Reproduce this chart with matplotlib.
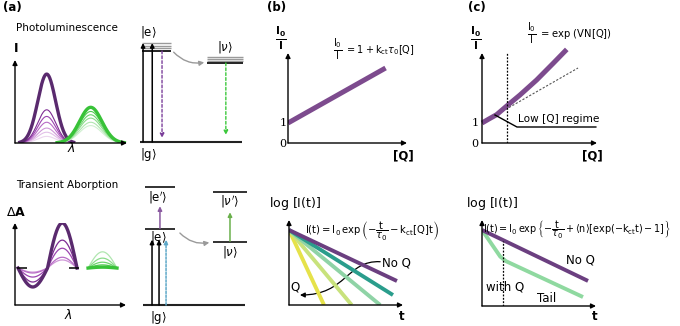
import numpy as np
import matplotlib
matplotlib.use('Agg')
import matplotlib.pyplot as plt
from matplotlib.patches import FancyArrowPatch
from matplotlib.path import Path

W, H = 680, 326
plt.rcParams['font.family'] = 'DejaVu Sans'
plt.rcParams['mathtext.fontset'] = 'dejavusans'

# ── data ────────────────────────────────────────────────────────────────────
# (a) photoluminescence bands (lambda in 0..1, intensity in 0..1)
pl_purple_centre, pl_purple_width = 0.283, 0.08
pl_green_centre, pl_green_width = 0.676, 0.10
pl_purple_heights = [0.08, 0.13, 0.18, 0.25, 0.32, 0.40, 0.83]
pl_green_heights = [0.21, 0.25, 0.30, 0.34, 0.38, 0.43]

# (a) transient absorption (bleach / induced absorption amplitudes)
ta_purple_range = (0.027, 0.559)
ta_purple_pos = [0.18, 0.24, 0.44, 0.62, 1.0]
ta_purple_neg = [0.09, 0.11, 0.20, 0.31, 0.42]
ta_green_range = (0.658, 0.919)
ta_green_heights = [0.36, 0.22, 0.13, 0.07, 0.02]

# (a) energy levels
E_ground = 0.0
E_e_pl = [1.0, 1.03, 1.06, 1.088]
E_nu_pl = [0.868, 0.89, 0.912, 0.934]
E_e_ta, E_e2_ta = 1.0, 1.553
E_nu_ta, E_nu2_ta = 0.829, 1.487

# (b) Stern-Volmer
q_b = [0.0, 0.82]
ratio_b = [1.0, 3.75]

# (c) exponential quenching
q_c = [0.0, 0.06, 0.128, 0.215, 0.33, 0.475, 0.62, 0.737]
ratio_c = [1.0, 1.2, 1.42, 1.85, 2.4, 3.15, 3.99, 4.68]
q_tangent = [0.0, 0.835]
ratio_tangent = [1.0, 3.75]
q_low = 0.215

# (b) decays, log I normalised to 1 at t = 0
decay_t_end = [0.947, 0.912, 0.80, 0.55, 0.307]
decay_y_end = [0.32, 0.133, 0.0, 0.0, 0.0]

# (c) decays
noq_t = [0.0, 0.93]
noq_y = [1.0, 0.33]
withq_t = [0.0, 0.16, 0.21, 0.886]
withq_y = [1.0, 0.65, 0.59, 0.118]
t_kink = 0.184

purple_shades = ['#ecd6ef', '#e2c0e8', '#cf98d8', '#b86cc6', '#9c45b0', '#7e2c93', '#5a2a6e']
green_shades = ['#d2f0d2', '#b0e6b0', '#8cdc8c', '#6dd36d', '#52cb52', '#38c238']
decay_colors = ['#6b3f80', '#2a9d8c', '#8fd3a6', '#c8e27c', '#e6e24a']

fig = plt.figure(figsize=(W / 100, H / 100), dpi=100)


def add_ax(x0, y0, x1, y1, xlim, ylim):
    ax = fig.add_axes([x0 / W, 1 - y1 / H, (x1 - x0) / W, (y1 - y0) / H])
    ax.set_xlim(*xlim)
    ax.set_ylim(*ylim)
    ax.axis('off')
    return ax


def axis_arrows(ax):
    (x0, x1), (y0, y1) = ax.get_xlim(), ax.get_ylim()
    kw = dict(arrowstyle='-|>', color='k', lw=1.0, mutation_scale=7,
              shrinkA=0, shrinkB=0)
    ax.annotate('', xy=(x1, y0), xytext=(x0, y0), arrowprops=kw,
                annotation_clip=False)
    ax.annotate('', xy=(x0, y1), xytext=(x0, y0), arrowprops=kw,
                annotation_clip=False)


def arrow(ax, x, y_from, y_to, color='k', ls='-', lw=1.1):
    ax.annotate('', xy=(x, y_to), xytext=(x, y_from), annotation_clip=False,
                arrowprops=dict(arrowstyle='-|>', color=color, lw=lw, ls=ls,
                                mutation_scale=6, shrinkA=0, shrinkB=0))


def label(x, y, s, ha='center', va='center', **kw):
    fig.text(x / W, 1 - y / H, s, ha=ha, va=va, **kw)


# ── (a) photoluminescence spectrum ─────────────────────────────────────────
ax = add_ax(15, 60, 127, 143, (0, 1), (0, 1))
axis_arrows(ax)
n = len(pl_purple_heights)
lam = np.linspace(pl_purple_centre - 3 * pl_purple_width,
                  pl_purple_centre + 3 * pl_purple_width, 200)
for i, h in enumerate(pl_purple_heights):
    ax.plot(lam, h * np.exp(-(lam - pl_purple_centre) ** 2 / (2 * pl_purple_width ** 2)),
            color=purple_shades[i], lw=2.4 if i == n - 1 else 0.8)
lam = np.linspace(pl_green_centre - 3 * pl_green_width,
                  pl_green_centre + 3 * pl_green_width, 200)
for i, h in enumerate(pl_green_heights):
    ax.plot(lam, h * np.exp(-(lam - pl_green_centre) ** 2 / (2 * pl_green_width ** 2)),
            color=green_shades[i], lw=2.4 if i == len(pl_green_heights) - 1 else 0.8)

label(3, 8, '(a)', ha='left', fontsize=8.5, fontweight='bold')
label(67, 28, 'Photoluminescence', fontsize=7.5)
label(16, 49, 'I', fontsize=9, fontweight='bold')
label(71, 148, r'$\lambda$', fontsize=9)

# ── (a) transient absorption spectrum ──────────────────────────────────────
ax = add_ax(15, 223, 126, 305, (0, 1), (-0.82, 1.0))
axis_arrows(ax)
x = np.linspace(*ta_purple_range, 200)
ph = (x - ta_purple_range[0]) / (ta_purple_range[1] - ta_purple_range[0])
s = np.sin(2 * np.pi * ph)
m = len(ta_purple_pos)
for i, (p, q) in enumerate(zip(ta_purple_pos, ta_purple_neg)):
    y = np.where(ph < 0.5, -q * s, -p * s)
    ax.plot(x, y, color=purple_shades[i + 2], lw=2.4 if i == m - 1 else 0.9)
ax.hlines(0, 0.018, 0.108, color='k', lw=1.1)
ax.hlines(0, 0.49, 0.58, color='k', lw=1.1)
x = np.linspace(*ta_green_range, 100)
ph = (x - ta_green_range[0]) / (ta_green_range[1] - ta_green_range[0])
for i, h in enumerate(ta_green_heights):
    ax.plot(x, h * np.sin(np.pi * ph), color=green_shades[i + 1],
            lw=2.4 if i == len(ta_green_heights) - 1 else 0.9)

label(67, 185, 'Transient Aborption', fontsize=7.5)
label(16, 213, r'$\Delta$A', fontsize=9, fontweight='bold')
label(68, 315, r'$\lambda$', fontsize=9)

# ── (a) level diagram, photoluminescence ───────────────────────────────────
ax = add_ax(135, 20, 250, 160, (0, 1), (-0.198, 1.341))
ax.hlines(E_ground, 0.04, 0.93, color='#222222', lw=1.5)
ax.hlines(E_e_pl[1:], 0.06, 0.31, color='#9a9a9a', lw=1.0)
ax.hlines(E_e_pl[0], 0.06, 0.31, color='#222222', lw=1.4)
ax.hlines(E_nu_pl[1:], 0.63, 0.94, color='#9a9a9a', lw=1.0)
ax.hlines(E_nu_pl[0], 0.63, 0.94, color='#222222', lw=1.4)
arrow(ax, 0.07, E_ground, E_e_pl[-1])
arrow(ax, 0.15, E_ground, E_e_pl[-1])
arrow(ax, 0.235, E_e_pl[0], 0.045, color='#7b3f9a', ls=(0, (2, 1.5)), lw=1.0)
arrow(ax, 0.79, E_nu_pl[0], 0.077, color='#3cc83c', ls=(0, (2, 1.5)), lw=1.0)
ax.annotate('', xy=(0.626, 0.88), xytext=(0.32, 1.01), annotation_clip=False,
            arrowprops=dict(arrowstyle='-|>', color='#9a9a9a', lw=1.0,
                            mutation_scale=7, connectionstyle='arc3,rad=0.3'))
label(148, 32, r'$|\mathrm{e}\rangle$', fontsize=8.5)
label(148, 155, r'$|\mathrm{g}\rangle$', fontsize=8.5)
label(225, 47, r'$|\nu\rangle$', fontsize=8.5)

# ── (a) level diagram, transient absorption ────────────────────────────────
ax = add_ax(135, 180, 250, 325, (0, 1), (-0.263, 1.645))
ax.hlines(E_ground, 0.07, 0.957, color='#222222', lw=1.5)
ax.hlines([E_e_ta, E_e2_ta], 0.087, 0.348, color='#222222', lw=1.3)
ax.hlines([E_nu_ta, E_nu2_ta], 0.678, 0.974, color='#222222', lw=1.3)
arrow(ax, 0.148, E_ground, 0.86)
arrow(ax, 0.209, E_ground, 0.86)
arrow(ax, 0.27, E_ground, 0.86, color='#5ea8c8', ls=(0, (1.5, 1)))
arrow(ax, 0.217, 1.01, 1.30, color='#8a5aa0')
arrow(ax, 0.826, 0.84, 1.22, color='#6ab04c')
ax.annotate('', xy=(0.67, E_nu_ta), xytext=(0.374, 0.974), annotation_clip=False,
            arrowprops=dict(arrowstyle='-|>', color='#9a9a9a', lw=1.0,
                            mutation_scale=7, connectionstyle='arc3,rad=0.3'))
label(158, 198, r"$|\mathrm{e}'\rangle$", fontsize=8.5)
label(158, 237, r'$|\mathrm{e}\rangle$', fontsize=8.5)
label(158, 318, r'$|\mathrm{g}\rangle$', fontsize=8.5)
label(230, 202, r"$|\nu'\rangle$", fontsize=8.5)
label(230, 252, r'$|\nu\rangle$', fontsize=8.5)

# ── (b) Stern-Volmer ───────────────────────────────────────────────────────
ax = add_ax(288, 53, 407, 143, (0, 1), (0, 4.5))
axis_arrows(ax)
ax.plot(q_b, ratio_b, color='#7d4b8e', lw=3.6, solid_capstyle='butt')
label(277, 8, '(b)', fontsize=8.5, fontweight='bold')
label(281, 38, r'$\frac{\mathbf{I_0}}{\mathbf{I}}$', fontsize=11)
label(283, 123, '1', fontsize=8, family='DejaVu Serif')
label(283, 144, '0', fontsize=8, family='DejaVu Serif')
label(403, 156, '[Q]', fontsize=8.5, fontweight='bold')
label(338, 50, r'$\frac{\mathrm{I_0}}{\mathrm{I}}$', fontsize=10)
label(345, 50, r'$= 1 + \mathrm{k_{ct}}\tau_0[\mathrm{Q}]$', ha='left', fontsize=7)

# ── (c) exponential quenching ──────────────────────────────────────────────
ax = add_ax(482, 53, 597, 143, (0, 1), (0, 4.5))
axis_arrows(ax)
ax.plot(q_tangent, ratio_tangent, color='#555555', lw=0.8, ls=(0, (2, 1.5)))
ax.plot(q_c, ratio_c, color='#7d4b8e', lw=3.6, solid_capstyle='butt',
        clip_on=False)
ax.plot([q_low, q_low], [0, 4.5], color='k', lw=0.9, ls=(0, (1.5, 1.2)))
ax.plot([0.113, 0.304, 0.99], [1.4, 0.8, 0.8], color='k', lw=1.0)
ax.text(0.31, 1.22, 'Low [Q] regime', fontsize=7.6, ha='left', va='center')
label(468, 8, '(c)', ha='left', fontsize=8.5, fontweight='bold')
label(476, 38, r'$\frac{\mathbf{I_0}}{\mathbf{I}}$', fontsize=11)
label(475, 123, '1', fontsize=8, family='DejaVu Serif')
label(475, 144, '0', fontsize=8, family='DejaVu Serif')
label(592, 156, '[Q]', fontsize=8.5, fontweight='bold')
label(532, 34, r'$\frac{\mathrm{I_0}}{\mathrm{I}}$', fontsize=10)
label(539, 34, r'$= \exp\,(\mathrm{VN[Q]})$', ha='left', fontsize=7.2)

# ── (b) decays ─────────────────────────────────────────────────────────────
ax = add_ax(289, 220, 403, 305, (0, 1), (0, 85 / 75))
axis_arrows(ax)
for i in range(len(decay_t_end) - 1, -1, -1):
    ax.plot([0, decay_t_end[i]], [1.0, decay_y_end[i]], color=decay_colors[i],
            lw=2.8, solid_capstyle='butt')
verts = [(0.80, 0.577), (0.506, 0.60), (0.506, 0.133), (0.096, 0.133)]
path = Path(verts, [Path.MOVETO, Path.CURVE4, Path.CURVE4, Path.CURVE4])
ax.add_patch(FancyArrowPatch(path=path, arrowstyle='-|>', mutation_scale=7,
                             lw=0.9, color='k'))
ax.text(0.82, 0.56, 'No Q', fontsize=8.5, ha='left', va='center')
ax.text(0.05, 0.24, 'Q', fontsize=8.5, ha='center', va='center')
label(295, 203, r'$\log\,[\mathrm{I(t)}]$', fontsize=9)
label(402, 317, 't', fontsize=8.5, fontweight='bold')
label(305, 230, r'$\mathrm{I(t)} = \mathrm{I_0}\,\exp\left(-\dfrac{\mathrm{t}}{\tau_0} - \mathrm{k_{ct}[Q]t}\right)$',
      ha='left', fontsize=7.2)

# ── (c) decays ─────────────────────────────────────────────────────────────
ax = add_ax(482, 220, 596, 306, (0, 1), (0, 86 / 76))
axis_arrows(ax)
ax.plot(withq_t, withq_y, color='#8fd9a0', lw=2.8, solid_capstyle='butt')
ax.plot(noq_t, noq_y, color='#6b3f80', lw=2.8, solid_capstyle='butt')
ax.plot([t_kink, t_kink], [0, 0.85], color='k', lw=0.9, ls=(0, (1.5, 1.2)))
ax.text(0.86, 0.60, 'No Q', fontsize=8.5, ha='center', va='center')
ax.text(0.2, 0.25, 'with Q', fontsize=8.5, ha='center', va='center')
ax.text(0.57, 0.105, 'Tail', fontsize=8.5, ha='center', va='center')
label(492, 203, r'$\log\,[\mathrm{I(t)}]$', fontsize=9)
label(595, 317, 't', fontsize=8.5, fontweight='bold')
label(483, 230, r'$\mathrm{I(t)} = \mathrm{I_0}\,\exp\left\{-\dfrac{\mathrm{t}}{\tau_0} + \langle\mathrm{n}\rangle\left[\exp(-\mathrm{k_{ct}t}) - 1\right]\right\}$',
      ha='left', fontsize=6.9)

fig.savefig('out.png', dpi=100)
